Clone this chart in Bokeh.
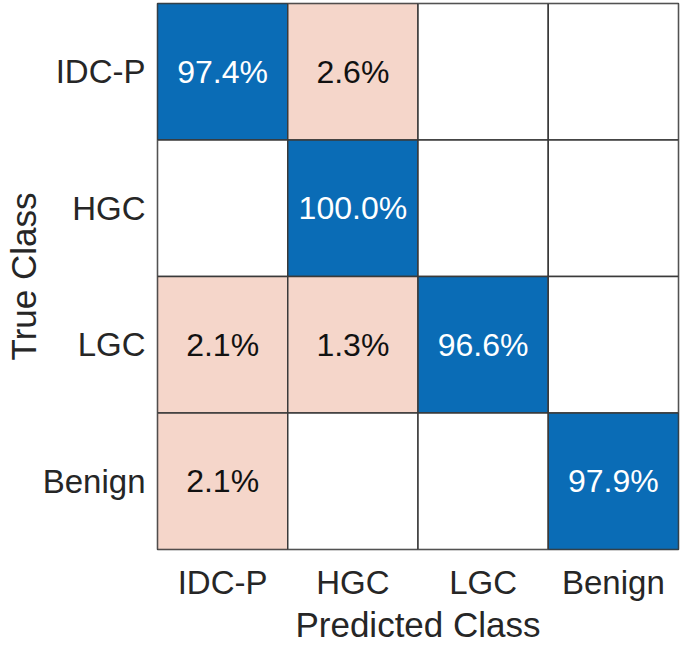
from bokeh.plotting import figure
from bokeh.models import ColumnDataSource, FactorRange
from bokeh.embed import file_html
from bokeh.resources import INLINE
from bokeh.core.properties import value

classes = ["IDC-P", "HGC", "LGC", "Benign"]
row_idcp = [97.4, 2.6, 0.0, 0.0]
row_hgc = [0.0, 100.0, 0.0, 0.0]
row_lgc = [2.1, 1.3, 96.6, 0.0]
row_benign = [2.1, 0.0, 0.0, 97.9]
rows = [row_idcp, row_hgc, row_lgc, row_benign]
x_title = "Predicted Class"
y_title = "True Class"

BLUE = "#0a6cb6"
SALMON = "#f5d6ca"
FONT = "Liberation Sans"
TXT = "#262626"

xs, ys, vals, fills, labels, tcols = [], [], [], [], [], []
for ti, t in enumerate(classes):
    for pi, pc in enumerate(classes):
        v = rows[ti][pi]
        xs.append(pc)
        ys.append(t)
        vals.append(v)
        if v == 0:
            fills.append("white")
            labels.append("")
            tcols.append("black")
        elif ti == pi:
            fills.append(BLUE)
            labels.append(f"{v:.1f}%")
            tcols.append("white")
        else:
            fills.append(SALMON)
            labels.append(f"{v:.1f}%")
            tcols.append("#111111")

src = ColumnDataSource(dict(x=xs, y=ys, v=vals, fill=fills, label=labels, tcol=tcols))

p = figure(width=680, height=646, output_backend="svg", toolbar_location=None,
           x_range=FactorRange(*classes), y_range=FactorRange(*classes[::-1]),
           min_border_left=157, min_border_right=2, min_border_top=3, min_border_bottom=0)

p.rect(x="x", y="y", width=1, height=1, source=src, fill_color="fill",
       line_color="#3a3a3a", line_width=1.5)
p.text(x="x", y="y", text="label", source=src, text_color="tcol",
       text_align="center", text_baseline="middle", text_font=value(FONT),
       text_font_size="32px")

p.xgrid.visible = False
p.ygrid.visible = False
p.outline_line_color = "#3a3a3a"
p.outline_line_width = 1.5

for ax in (p.xaxis[0], p.yaxis[0]):
    ax.axis_line_color = None
    ax.major_tick_line_color = None
    ax.minor_tick_line_color = None
    ax.major_tick_out = 0
    ax.major_tick_in = 0
    ax.major_label_text_font = FONT
    ax.major_label_text_font_size = "33px"
    ax.major_label_text_color = TXT
    ax.axis_label_text_font = FONT
    ax.axis_label_text_font_size = "35px"
    ax.axis_label_text_color = TXT
    ax.axis_label_text_font_style = "normal"

p.xaxis.axis_label = x_title
p.yaxis.axis_label = y_title
p.xaxis.major_label_standoff = 14
p.yaxis.major_label_standoff = 12
p.xaxis.axis_label_standoff = 1
p.yaxis.axis_label_standoff = -3

open("out.html", "w").write(file_html(p, INLINE))
